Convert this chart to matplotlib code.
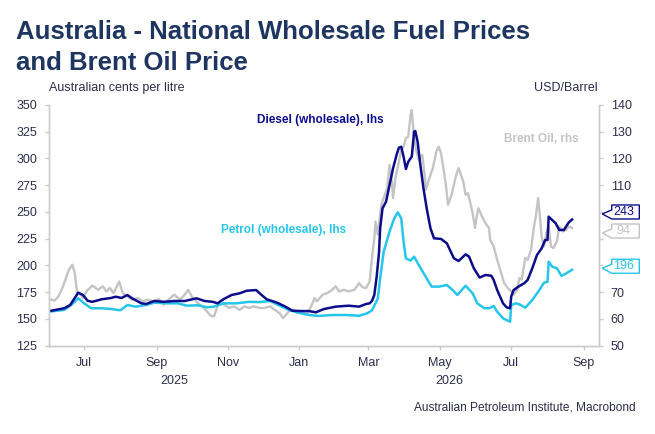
import matplotlib
matplotlib.use("Agg")
import matplotlib.pyplot as plt
import matplotlib.dates as mdates
import pandas as pd
from matplotlib.patches import Polygon
from matplotlib.transforms import blended_transform_factory

plt.rcParams["font.family"] = ["Liberation Sans", "DejaVu Sans"]

## values
diesel_dates = ["2025-06-03", "2025-06-14", "2025-06-19", "2025-06-26", "2025-06-30", "2025-07-04",
                "2025-07-08", "2025-07-16", "2025-07-24", "2025-07-28", "2025-08-02", "2025-08-07",
                "2025-08-11", "2025-08-19", "2025-08-23", "2025-08-30", "2025-09-07", "2025-09-16",
                "2025-09-25", "2025-10-05", "2025-10-12", "2025-10-19", "2025-10-23", "2025-10-28",
                "2025-11-04", "2025-11-11", "2025-11-17", "2025-11-25", "2025-11-28", "2025-12-04",
                "2025-12-13", "2025-12-20", "2025-12-26", "2026-01-02", "2026-01-09", "2026-01-15",
                "2026-01-22", "2026-02-01", "2026-02-12", "2026-02-21", "2026-02-27", "2026-03-02",
                "2026-03-04", "2026-03-06", "2026-03-08", "2026-03-10", "2026-03-11", "2026-03-13",
                "2026-03-16", "2026-03-19", "2026-03-22", "2026-03-25", "2026-03-27", "2026-03-29",
                "2026-03-31", "2026-04-02", "2026-04-04", "2026-04-07", "2026-04-09", "2026-04-10",
                "2026-04-12", "2026-04-14", "2026-04-17", "2026-04-20", "2026-04-23", "2026-04-26",
                "2026-05-02", "2026-05-07", "2026-05-13", "2026-05-17", "2026-05-23", "2026-05-26",
                "2026-05-30", "2026-06-04", "2026-06-09", "2026-06-14", "2026-06-16", "2026-06-19",
                "2026-06-24", "2026-06-27", "2026-06-30", "2026-07-01", "2026-07-03", "2026-07-08",
                "2026-07-12", "2026-07-15", "2026-07-19", "2026-07-23", "2026-07-27", "2026-07-30",
                "2026-08-01", "2026-08-02", "2026-08-05", "2026-08-08", "2026-08-11", "2026-08-15",
                "2026-08-19", "2026-08-22"]
diesel_values = [157.7, 160, 163, 174.6, 172.4, 167, 166, 168.4, 169.6, 170.8, 169.6, 172.4,
                 169.3, 164.6, 164, 166.8, 166, 166.8, 166.8, 169.3, 166.8, 166, 164.6, 168.4,
                 172.4, 174, 176.4, 177, 174, 168.4, 165.2, 161.5, 157.7, 157.4, 157.4, 156.2,
                 159.3, 161.5, 162.4, 161.5, 164, 164.6, 166.8, 172.4, 189.5, 212, 234.7, 253.4,
                 259.6, 275.2, 290.8, 303.3, 310.1, 311, 301.7, 290.2, 297, 301.7, 325, 325.7,
                 315.7, 297, 272.1, 251.9, 234.7, 225.4, 224.8, 220.7, 206.7, 204.2, 210.4, 208.2,
                 197.4, 188.7, 191.1, 190.4, 186.4, 177, 164.6, 160.9, 160, 171, 177, 180.8,
                 183.3, 186.4, 197.4, 209.8, 216, 223.8, 223.8, 245.6, 242.5, 239.4, 233.2, 233.2,
                 240, 243]

petrol_dates = ["2025-06-03", "2025-06-14", "2025-06-20", "2025-06-26", "2025-07-01", "2025-07-07",
                "2025-07-16", "2025-07-24", "2025-08-01", "2025-08-07", "2025-08-14", "2025-08-23",
                "2025-08-30", "2025-09-10", "2025-09-19", "2025-09-27", "2025-10-06", "2025-10-14",
                "2025-10-20", "2025-10-28", "2025-11-08", "2025-11-19", "2025-11-28", "2025-12-07",
                "2025-12-14", "2025-12-23", "2025-12-31", "2026-01-09", "2026-01-18", "2026-01-29",
                "2026-02-10", "2026-02-21", "2026-02-28", "2026-03-04", "2026-03-07", "2026-03-09",
                "2026-03-11", "2026-03-14", "2026-03-19", "2026-03-23", "2026-03-26", "2026-03-29",
                "2026-03-31", "2026-04-02", "2026-04-06", "2026-04-09", "2026-04-13", "2026-04-18",
                "2026-04-24", "2026-04-30", "2026-05-07", "2026-05-12", "2026-05-16", "2026-05-23",
                "2026-05-29", "2026-06-02", "2026-06-08", "2026-06-12", "2026-06-16", "2026-06-19",
                "2026-06-24", "2026-06-30", "2026-07-01", "2026-07-05", "2026-07-08", "2026-07-13",
                "2026-07-19", "2026-07-25", "2026-07-29", "2026-08-01", "2026-08-02", "2026-08-05",
                "2026-08-09", "2026-08-13", "2026-08-18", "2026-08-22"]
petrol_values = [157.1, 158.4, 163, 169.3, 164.6, 160, 160, 159.3, 158.1, 163, 161.5, 163,
                 165.2, 164.6, 164.6, 162.4, 162.8, 160.9, 161.5, 164.6, 164.6, 166, 165.8, 166.8,
                 163, 158.4, 155.9, 153.7, 152.8, 153.7, 153.7, 153, 155.3, 158, 164.6, 169.3,
                 188, 212.9, 231.6, 244, 249.7, 244, 222.2, 206.7, 204.5, 208.2, 200.4, 191.1,
                 180.2, 180.2, 181.7, 177, 172.4, 181.1, 174, 164.6, 160, 160, 162.1, 156.8,
                 150.6, 147.4, 163, 164.6, 163.7, 160.5, 167.7, 177, 183.9, 184.8, 203.5, 198.9,
                 197.4, 190.2, 193.3, 196]

brent_dates = ["2025-06-03", "2025-06-06", "2025-06-09", "2025-06-13", "2025-06-16", "2025-06-18",
               "2025-06-21", "2025-06-23", "2025-06-25", "2025-06-28", "2025-06-30", "2025-07-03",
               "2025-07-08", "2025-07-13", "2025-07-17", "2025-07-20", "2025-07-23", "2025-07-26",
               "2025-07-29", "2025-07-31", "2025-08-03", "2025-08-07", "2025-08-11", "2025-08-16",
               "2025-08-20", "2025-08-24", "2025-08-29", "2025-09-03", "2025-09-07", "2025-09-11",
               "2025-09-16", "2025-09-21", "2025-09-25", "2025-09-28", "2025-10-01", "2025-10-06",
               "2025-10-10", "2025-10-14", "2025-10-17", "2025-10-20", "2025-10-24", "2025-10-29",
               "2025-11-02", "2025-11-06", "2025-11-11", "2025-11-15", "2025-11-19", "2025-11-23",
               "2025-11-28", "2025-12-02", "2025-12-07", "2025-12-11", "2025-12-15", "2025-12-18",
               "2025-12-23", "2025-12-27", "2025-12-31", "2026-01-04", "2026-01-08", "2026-01-11",
               "2026-01-14", "2026-01-16", "2026-01-21", "2026-01-25", "2026-01-29", "2026-02-01",
               "2026-02-04", "2026-02-08", "2026-02-12", "2026-02-17", "2026-02-21", "2026-02-24",
               "2026-02-27", "2026-03-02", "2026-03-04", "2026-03-06", "2026-03-07", "2026-03-09",
               "2026-03-12", "2026-03-15", "2026-03-17", "2026-03-19", "2026-03-21", "2026-03-22",
               "2026-03-24", "2026-03-27", "2026-03-29", "2026-03-31", "2026-04-02", "2026-04-04",
               "2026-04-06", "2026-04-07", "2026-04-09", "2026-04-11", "2026-04-13", "2026-04-16",
               "2026-04-18", "2026-04-19", "2026-04-22", "2026-04-25", "2026-04-28", "2026-04-30",
               "2026-05-02", "2026-05-04", "2026-05-06", "2026-05-08", "2026-05-11", "2026-05-15",
               "2026-05-17", "2026-05-21", "2026-05-23", "2026-05-25", "2026-05-27", "2026-05-29",
               "2026-05-31", "2026-06-02", "2026-06-03", "2026-06-06", "2026-06-09", "2026-06-12",
               "2026-06-13", "2026-06-16", "2026-06-19", "2026-06-22", "2026-06-25", "2026-06-28",
               "2026-07-01", "2026-07-03", "2026-07-06", "2026-07-08", "2026-07-10", "2026-07-13",
               "2026-07-15", "2026-07-18", "2026-07-20", "2026-07-22", "2026-07-24", "2026-07-25",
               "2026-07-27", "2026-07-29", "2026-07-31", "2026-08-02", "2026-08-04", "2026-08-06",
               "2026-08-09", "2026-08-11", "2026-08-14", "2026-08-17", "2026-08-19", "2026-08-22"]
brent_values = [67.2, 66.9, 68.4, 72.2, 75.9, 78.4, 80.3, 77.2, 69.7, 69.1, 67.8, 70.3,
                72.5, 70.9, 72.2, 70.3, 71.6, 69.7, 72.2, 74.0, 69.7, 68.4, 67.2, 67.8,
                66.6, 67.2, 66.6, 67.4, 65.3, 67.2, 69.1, 67.2, 69.1, 70.9, 68.4, 66.0,
                64.7, 62.8, 61.2, 61.0, 66.0, 65.3, 64.1, 64.7, 63.4, 64.7, 64.1, 64.7,
                64.1, 64.1, 64.7, 63.4, 62.2, 60.3, 62.8, 63.4, 62.2, 62.8, 62.2, 64.7,
                67.8, 66.6, 69.1, 69.7, 70.9, 72.2, 70.3, 70.9, 70.3, 70.9, 73.4, 71.8,
                71.6, 74.0, 82.8, 90.2, 96.4, 91.5, 102.7, 106.4, 108.9, 117.6, 111.4, 105.2,
                112.6, 118.8, 123.2, 124.4, 127.6, 128.2, 136.3, 138.1, 127.6, 122.6, 119.5, 121.3,
                113.9, 108.3, 112.6, 116.4, 122.6, 124.4, 122.0, 116.4, 110.8, 102.7, 106.4, 113.9,
                116.4, 111.4, 106.4, 107.0, 103.5, 99.6, 94.0, 99.6, 101.4, 98.3, 95.8, 94.0,
                89.6, 87.1, 82.1, 77.8, 73.4, 71.6, 70.3, 69.1, 70.9, 75.3, 74.7, 82.8,
                82.1, 85.9, 93.3, 98.3, 105.2, 100.8, 90.8, 87.1, 92.1, 94.6, 87.1, 86.5,
                89.0, 94.6, 92.7, 93.3, 94.6, 94]

## colours
DIESEL = "#0c0c8c"
PETROL = "#25c6ea"
BRENT = "#c4c4c4"
TEXT = "#2d2d4d"
TITLE = "#1d3560"
AXIS = "#cccccc"

W, H = 655, 434
fig = plt.figure(figsize=(W / 100, H / 100), dpi=100)
ax = fig.add_axes([49 / W, 1 - 345.7 / H, 550 / W, (345.7 - 105) / H])
ax2 = ax.twinx()

## brent on the right axis, drawn behind the fuel lines
ax2.plot(pd.to_datetime(brent_dates), brent_values, color=BRENT, lw=1.7)
ax.plot(pd.to_datetime(petrol_dates), petrol_values, color=PETROL, lw=1.8)
ax.plot(pd.to_datetime(diesel_dates), diesel_values, color=DIESEL, lw=1.8)
ax.set_zorder(ax2.get_zorder() + 1)
ax.patch.set_visible(False)

xmin = pd.Timestamp("2025-06-01")
xmax = pd.Timestamp("2026-09-14")
ax.set_xlim(xmin, xmax)
ax.set_ylim(125, 350)
ax2.set_ylim(50, 140)
ax.set_yticks(range(125, 351, 25))
ax2.set_yticks(range(50, 141, 10))

ax.xaxis.set_major_locator(mdates.MonthLocator(bymonth=[1, 3, 5, 7, 9, 11]))
ax.xaxis.set_major_formatter(mdates.DateFormatter("%b"))

for a in (ax, ax2):
    a.spines["top"].set_visible(False)
    for side in ["left", "right", "bottom"]:
        a.spines[side].set_color(AXIS)
        a.spines[side].set_linewidth(1)
    a.tick_params(axis="both", colors=AXIS, labelcolor=TEXT, labelsize=9,
                  length=3, width=1)
ax.tick_params(axis="y", pad=5.5)
ax2.tick_params(axis="y", pad=5.5)
ax.tick_params(axis="x", pad=5)

## year labels centred under the visible part of each year
trans = blended_transform_factory(ax.transData, fig.transFigure)
for year in [2025, 2026]:
    start = max(xmin, pd.Timestamp(f"{year}-01-01"))
    end = min(xmax, pd.Timestamp(f"{year + 1}-01-01"))
    mid = mdates.date2num(start) + (mdates.date2num(end) - mdates.date2num(start)) / 2
    ax.text(mid, 1 - 381 / H, str(year), transform=trans, ha="center", va="center",
            fontsize=9, color=TEXT)

## titles and notes
fig.text(16.5 / W, 1 - 39 / H, "Australia - National Wholesale Fuel Prices",
         fontsize=18.5, weight="bold", color=TITLE, va="baseline")
fig.text(16.5 / W, 1 - 70 / H, "and Brent Oil Price",
         fontsize=18.5, weight="bold", color=TITLE, va="baseline")
fig.text(49 / W, 1 - 88 / H, "Australian cents per litre", fontsize=9, color=TEXT, va="center")
fig.text(598 / W, 1 - 88 / H, "USD/Barrel", fontsize=9, color=TEXT, va="center", ha="right")
fig.text(636 / W, 1 - 407 / H, "Australian Petroleum Institute, Macrobond",
         fontsize=8.6, color=TEXT, va="center", ha="right")

fig.text(257 / W, 1 - 119.5 / H, "Diesel (wholesale), lhs", fontsize=8.5, weight="bold",
         color=DIESEL, va="center")
fig.text(221 / W, 1 - 230.5 / H, "Petrol (wholesale), lhs", fontsize=8.5, weight="bold",
         color=PETROL, va="center")
fig.text(504 / W, 1 - 139 / H, "Brent Oil, rhs", fontsize=8.5, weight="bold",
         color=BRENT, va="center")

## last-value tags on the right axis
tag_centres = []


def value_tag(axis, value, color, nudge):
    right = mdates.date2num(xmax)
    x0, y0 = axis.transData.transform((right, value))
    x0 += 3.3
    y0 += nudge
    verts = [(x0, y0), (x0 + 9.4, y0 - 5), (x0 + 37, y0 - 5), (x0 + 37, y0 + 9),
             (x0 + 9.4, y0 + 9), (x0 + 9.4, y0 + 4)]
    verts = [(vx / W, vy / H) for vx, vy in verts]
    fig.add_artist(Polygon(verts, closed=True, transform=fig.transFigure,
                           facecolor="white", edgecolor=color, lw=1, zorder=5))
    fig.text((x0 + 21) / W, (y0 + 2) / H, f"{value:.0f}", fontsize=9, color=color,
             ha="center", va="center", zorder=6)
    tag_centres.append(y0 + 2)


value_tag(ax, diesel_values[-1], DIESEL, 5.5)
value_tag(ax2, brent_values[-1], BRENT, -5)
value_tag(ax, petrol_values[-1], PETROL, 1.5)

## right-axis numbers hidden behind the tags
labels = []
for t in ax2.get_yticks():
    ty = ax2.transData.transform((0, t))[1]
    hidden = any(abs(ty - c) < 10 for c in tag_centres)
    labels.append("" if hidden else f"{t:.0f}")
ax2.set_yticks(ax2.get_yticks(), labels)

fig.savefig("out.png", dpi=100)
